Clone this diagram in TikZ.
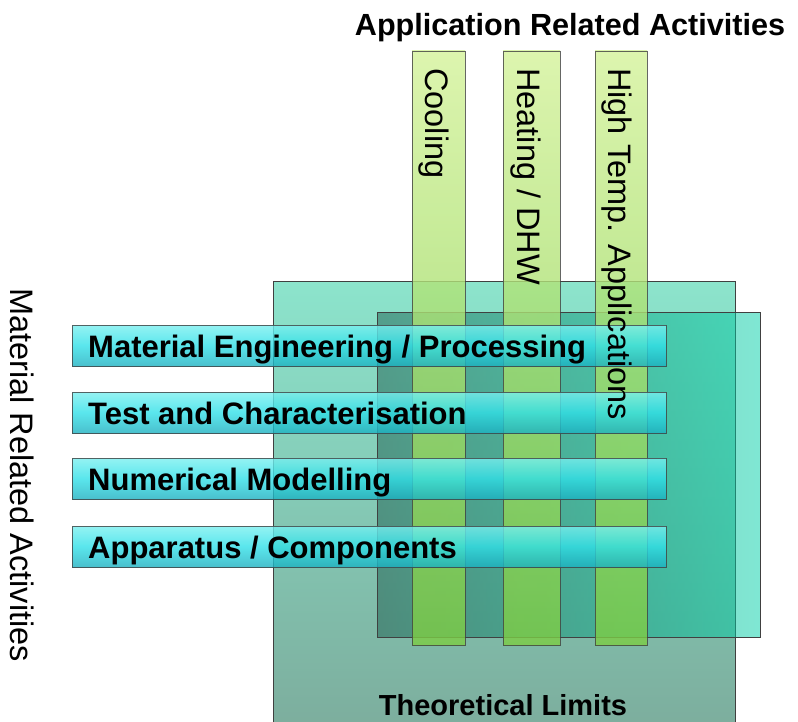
\documentclass[tikz,border=0pt]{standalone}
\usepackage{fontspec}
\setmainfont{Liberation Sans}
\definecolor{bigtop}{HTML}{8CE4CC}
\definecolor{bigbot}{HTML}{7CAC9C}
\definecolor{secleft}{HTML}{1E5E50}
\definecolor{secright}{HTML}{00D0A8}
\definecolor{vtop}{HTML}{D4F29A}
\definecolor{vbot}{HTML}{7CCC44}
\definecolor{htop}{HTML}{7AF0F0}
\definecolor{hmid}{HTML}{30E0E8}
\definecolor{hbot}{HTML}{1CB0C0}
\begin{document}
\begin{tikzpicture}[x=1pt,y=-1pt,
  edge/.style={draw=black!75, line width=0.8pt},
  vbar/.style={edge, top color=vtop, bottom color=vbot, fill opacity=0.8, draw opacity=0.8},
  hbar/.style={edge, top color=htop, bottom color=hbot, middle color=hmid, fill opacity=0.8, draw opacity=0.8},
  hlabel/.style={font=\fontsize{31}{36}\selectfont\bfseries, anchor=base west, inner sep=0pt},
  vlabel/.style={font=\fontsize{32.5}{38}\selectfont, anchor=base west, rotate=-90, inner sep=0pt}]
\useasboundingbox (0,0) rectangle (798,722);
\clip (0,0) rectangle (798,722);
% background rectangles
\shadedraw[edge, top color=bigtop, bottom color=bigbot] (273,281) rectangle (735,740);
\shadedraw[edge, left color=secleft, right color=secright, fill opacity=0.5] (377,312) rectangle (760,637);
% vertical bars
\shadedraw[vbar] (412,51) rectangle (465,645);
\shadedraw[vbar] (503,51) rectangle (560,645);
\shadedraw[vbar] (595,51) rectangle (647,645);
% horizontal bars
\shadedraw[hbar] (72,325) rectangle (666,366);
\shadedraw[hbar] (72,392) rectangle (666,433);
\shadedraw[hbar] (72,458) rectangle (666,499);
\shadedraw[hbar] (72,526) rectangle (666,567);
% labels
\node[font=\fontsize{30.6}{36}\selectfont\bfseries, anchor=base, inner sep=0pt] (title) at (570,36) {Application Related Activities};
\node[vlabel] (cool) at (425,68) {Cooling};
\node[vlabel] (heat) at (517,68) {Heating / DHW};
\node[vlabel] (high) at (608,68) {High Temp. Applications};
\node[vlabel] (mat) at (10,288) {Material Related Activities};
\node[hlabel] (eng) at (88,357) {Material Engineering / Processing};
\node[hlabel] (test) at (88,424) {Test and Characterisation};
\node[hlabel] (num) at (88,490) {Numerical Modelling};
\node[hlabel] (app) at (88,558) {Apparatus / Components};
\node[font=\fontsize{29}{34}\selectfont\bfseries, anchor=base, inner sep=0pt] (theo) at (503,715) {Theoretical Limits};
\end{tikzpicture}
\end{document}
